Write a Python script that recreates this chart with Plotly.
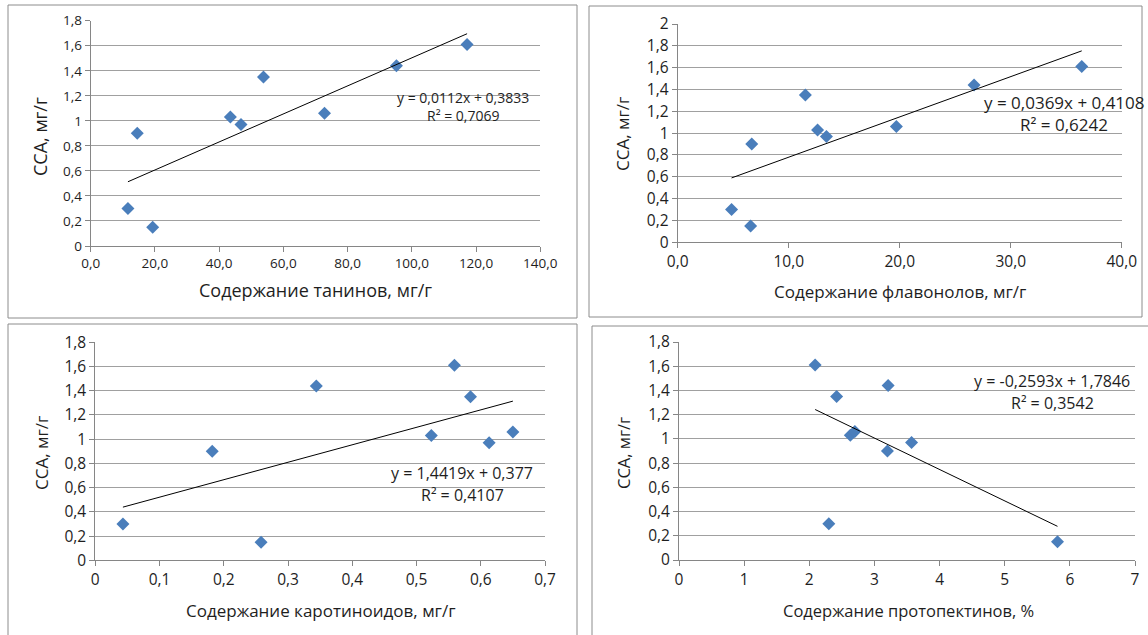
import plotly.graph_objects as go

W, H = 1148, 635

# ---------------- data ----------------
cca = [0.30, 0.15, 0.90, 1.35, 1.03, 0.97, 1.06, 1.44, 1.61]
tannins = [11.6, 19.3, 14.5, 53.8, 43.5, 46.8, 72.8, 95.2, 117.2]
flavonols = [4.85, 6.57, 6.67, 11.5, 12.6, 13.4, 19.7, 26.7, 36.4]
carotenoids = [0.043, 0.258, 0.182, 0.584, 0.523, 0.613, 0.650, 0.344, 0.559]
protopectins = [2.30, 5.81, 3.20, 2.42, 2.63, 3.57, 2.70, 3.21, 2.09]

slopes = [0.0112, 0.0369, 1.4419, -0.2593]
intercepts = [0.3833, 0.4108, 0.377, 1.7846]
equations = ["y = 0,0112x + 0,3833", "y = 0,0369x + 0,4108",
             "y = 1,4419x + 0,377", "y = -0,2593x + 1,7846"]
r2_texts = ["R² = 0,7069", "R² = 0,6242", "R² = 0,4107", "R² = 0,3542"]

x_titles = ["Содержание танинов, мг/г", "Содержание флавонолов, мг/г",
            "Содержание каротиноидов, мг/г", "Содержание протопектинов, %"]
y_title = "CCA, мг/г"

x1_ticks = [0, 20, 40, 60, 80, 100, 120, 140]
x1_labels = ["0,0", "20,0", "40,0", "60,0", "80,0", "100,0", "120,0", "140,0"]
x2_ticks = [0, 10, 20, 30, 40]
x2_labels = ["0,0", "10,0", "20,0", "30,0", "40,0"]
x3_ticks = [0, 0.1, 0.2, 0.3, 0.4, 0.5, 0.6, 0.7]
x3_labels = ["0", "0,1", "0,2", "0,3", "0,4", "0,5", "0,6", "0,7"]
x4_ticks = [0, 1, 2, 3, 4, 5, 6, 7]
x4_labels = ["0", "1", "2", "3", "4", "5", "6", "7"]
y_ticks = [0, 0.2, 0.4, 0.6, 0.8, 1.0, 1.2, 1.4, 1.6, 1.8]
y_labels = ["0", "0,2", "0,4", "0,6", "0,8", "1", "1,2", "1,4", "1,6", "1,8"]
y2_ticks = [0, 0.2, 0.4, 0.6, 0.8, 1.0, 1.2, 1.4, 1.6, 1.8, 2.0]
y2_labels = ["0", "0,2", "0,4", "0,6", "0,8", "1", "1,2", "1,4", "1,6", "1,8", "2"]

# ---------------- layout helpers ----------------
def px(x):
    return x / W

def py(y):
    return 1 - y / H

FONT = "Open Sans"
TXT = "#1e1e1e"
GRID = "#a0a0a0"
AXIS = "#868686"
MARK = "#4a7ebb"

panels = [
    dict(x=tannins, xt=x1_ticks, xl=x1_labels, xr=[0, 140], yt=y_ticks, yl=y_labels, yr=[0, 1.8],
         dom_x=[90.7, 540.3], dom_y=[246.0, 20.7], fs=13.5,
         eq=(463, 98), r2=(463, 116), eqfs=14, tfs=18,
         xtitle=(315, 290), ytitle=(40, 137), border=(8, 5, 577, 318)),
    dict(x=flavonols, xt=x2_ticks, xl=x2_labels, xr=[0, 40], yt=y2_ticks, yl=y2_labels, yr=[0, 2.0],
         dom_x=[677.7, 1121.7], dom_y=[242.3, 24.0], fs=15.5,
         eq=(1064, 102), r2=(1064, 124), eqfs=17, tfs=17,
         xtitle=(900, 291), ytitle=(622, 134), border=(589, 6, 1142, 317)),
    dict(x=carotenoids, xt=x3_ticks, xl=x3_labels, xr=[0, 0.7], yt=y_ticks, yl=y_labels, yr=[0, 1.8],
         dom_x=[95.3, 545.0], dom_y=[560.3, 342.3], fs=15.5,
         eq=(462, 473), r2=(462, 495), eqfs=16, tfs=17,
         xtitle=(321, 610), ytitle=(41, 453), border=(8, 324, 577, 640)),
    dict(x=protopectins, xt=x4_ticks, xl=x4_labels, xr=[0, 7], yt=y_ticks, yl=y_labels, yr=[0, 1.8],
         dom_x=[679.0, 1135.0], dom_y=[560.0, 342.0], fs=15.5,
         eq=(1052, 381), r2=(1052, 403), eqfs=16, tfs=16.5,
         xtitle=(908, 610), ytitle=(623, 453), border=(592, 326, 1152, 640)),
]

fig = go.Figure()
annotations = []
shapes = []
layout_axes = {}

for i, p in enumerate(panels):
    n = "" if i == 0 else str(i + 1)
    xa, ya = "x" + n, "y" + n
    fig.add_trace(go.Scatter(
        x=p["x"], y=cca, mode="markers", xaxis=xa, yaxis=ya,
        marker=dict(symbol="diamond", size=10, color=MARK, line=dict(width=0)),
        showlegend=False, cliponaxis=False))
    x0, x1 = min(p["x"]), max(p["x"])
    fig.add_trace(go.Scatter(
        x=[x0, x1], y=[slopes[i] * x0 + intercepts[i], slopes[i] * x1 + intercepts[i]],
        mode="lines", xaxis=xa, yaxis=ya, line=dict(color="#000000", width=1),
        showlegend=False, cliponaxis=False))

    layout_axes["xaxis" + n] = dict(
        domain=[px(p["dom_x"][0]), px(p["dom_x"][1])], range=p["xr"], anchor=ya,
        tickmode="array", tickvals=p["xt"], ticktext=p["xl"], automargin=False,
        showgrid=False, zeroline=False, showline=True, linecolor=AXIS, linewidth=1,
        ticks="outside", ticklen=5, tickcolor=AXIS, tickwidth=1,
        tickfont=dict(family=FONT, size=p["fs"], color=TXT), fixedrange=True)
    layout_axes["yaxis" + n] = dict(
        domain=[py(p["dom_y"][0]), py(p["dom_y"][1])], range=p["yr"], anchor=xa,
        tickmode="array", tickvals=p["yt"], ticktext=p["yl"], automargin=False,
        showgrid=True, gridcolor=GRID, gridwidth=1, zeroline=False,
        showline=True, linecolor=AXIS, linewidth=1,
        ticks="outside", ticklen=5, tickcolor=AXIS, tickwidth=1,
        tickfont=dict(family=FONT, size=p["fs"], color=TXT), fixedrange=True)

    annotations.append(dict(text=equations[i], x=px(p["eq"][0]), y=py(p["eq"][1]),
                            xref="paper", yref="paper", showarrow=False, xanchor="center",
                            yanchor="middle", font=dict(family=FONT, size=p["eqfs"], color=TXT)))
    annotations.append(dict(text=r2_texts[i], x=px(p["r2"][0]), y=py(p["r2"][1]),
                            xref="paper", yref="paper", showarrow=False, xanchor="center",
                            yanchor="middle", font=dict(family=FONT, size=p["eqfs"], color=TXT)))
    annotations.append(dict(text=x_titles[i], x=px(p["xtitle"][0]), y=py(p["xtitle"][1]),
                            xref="paper", yref="paper", showarrow=False, xanchor="center",
                            yanchor="middle", font=dict(family=FONT, size=p["tfs"], color=TXT)))
    annotations.append(dict(text=y_title, x=px(p["ytitle"][0]), y=py(p["ytitle"][1]),
                            xref="paper", yref="paper", showarrow=False, xanchor="center",
                            yanchor="middle", textangle=-90,
                            font=dict(family=FONT, size=p["tfs"], color=TXT)))
    bx0, by0, bx1, by1 = p["border"]
    shapes.append(dict(type="rect", xref="paper", yref="paper",
                       x0=px(bx0), x1=px(bx1), y0=py(by1), y1=py(by0),
                       line=dict(color="#8c8c8c", width=1), fillcolor="rgba(0,0,0,0)",
                       layer="below"))

fig.update_layout(
    width=W, height=H, margin=dict(l=0, r=0, t=0, b=0, pad=0, autoexpand=False),
    paper_bgcolor="white", plot_bgcolor="white",
    annotations=annotations, shapes=shapes, showlegend=False,
    font=dict(family=FONT, color=TXT),
    **layout_axes)

fig.write_html(
    "out.html",
    config={"displayModeBar": False, "staticPlot": True},
    post_script="document.body.style.margin='0';document.body.style.overflow='hidden';",
)
